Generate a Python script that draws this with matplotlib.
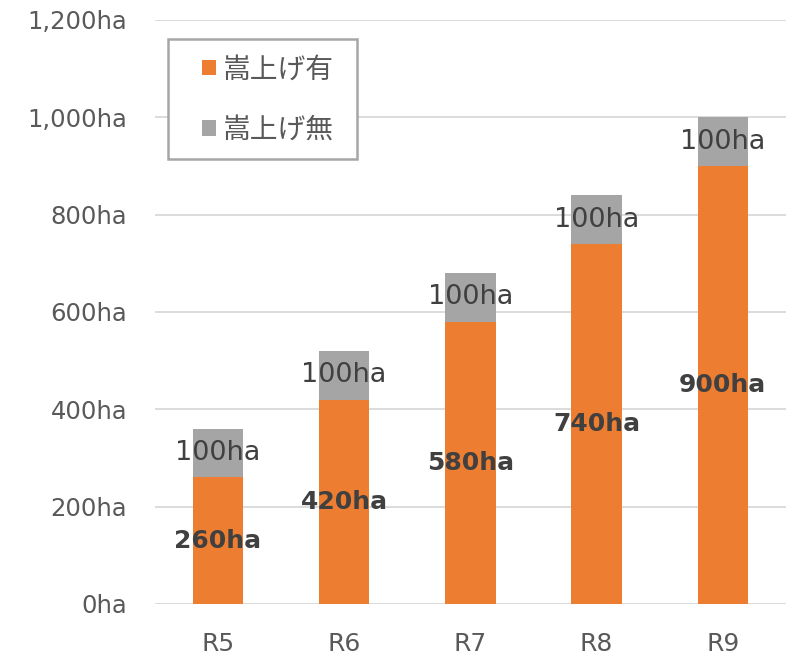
import matplotlib
matplotlib.use("Agg")
import matplotlib.pyplot as plt
from matplotlib.ticker import FuncFormatter
from matplotlib.patches import Rectangle

plt.rcParams['font.family'] = ['DejaVu Sans', 'Noto Sans CJK JP']

categories = ["R5", "R6", "R7", "R8", "R9"]
with_raise = [260, 420, 580, 740, 900]
without_raise = [100, 100, 100, 100, 100]
series_names = ["嵩上げ有", "嵩上げ無"]
yticks = [0, 200, 400, 600, 800, 1000, 1200]

orange = "#ED7D31"
gray = "#A5A5A5"
text_gray = "#595959"
label_dark = "#404040"

fig = plt.figure(figsize=(8.02, 6.59), dpi=100)
ax = fig.add_axes([0.193, 0.0835, 0.787, 0.8862])

x = list(range(len(categories)))
ax.bar(x, with_raise, width=0.4, color=orange, label=series_names[0], zorder=3)
ax.bar(x, without_raise, width=0.4, bottom=with_raise, color=gray, label=series_names[1], zorder=3)

for xi, v in zip(x, with_raise):
    ax.text(xi, v / 2, f"{v}ha", ha="center", va="center", fontsize=18,
            fontweight="bold", color=label_dark, zorder=4)
for xi, v, b in zip(x, without_raise, with_raise):
    ax.text(xi, b + v / 2, f"{v}ha", ha="center", va="center", fontsize=19.5,
            color=label_dark, zorder=4)

ax.set_xlim(-0.5, len(categories) - 0.5)
ax.set_ylim(0, 1200)
ax.set_yticks(yticks)
ax.yaxis.set_major_formatter(FuncFormatter(lambda v, p: f"{int(v):,}ha"))
ax.set_xticks(x)
ax.set_xticklabels(categories)
ax.tick_params(axis="y", length=0, labelsize=17.5, colors=text_gray, pad=20)
ax.tick_params(axis="x", length=0, labelsize=18, colors=text_gray, pad=20)
ax.grid(axis="y", color="#D9D9D9", linewidth=1.3, zorder=0)
for s in ax.spines.values():
    s.set_visible(False)

# legend frame box
frame = Rectangle((0.0206, 0.762), 0.2995, 0.2055, transform=ax.transAxes,
                  facecolor="white", edgecolor="#A6A6A6", linewidth=1.8, zorder=5)
ax.add_patch(frame)

leg = ax.legend(loc="upper left", bbox_to_anchor=(0.0745, 0.941), frameon=False,
                prop={'family': ['Noto Sans CJK JP'], 'size': 20},
                handlelength=0.5, handleheight=0.5,
                handletextpad=0.25, labelspacing=1.1, borderpad=0,
                borderaxespad=0, labelcolor=text_gray)
leg.set_zorder(6)

fig.savefig("out.png", dpi=100)
